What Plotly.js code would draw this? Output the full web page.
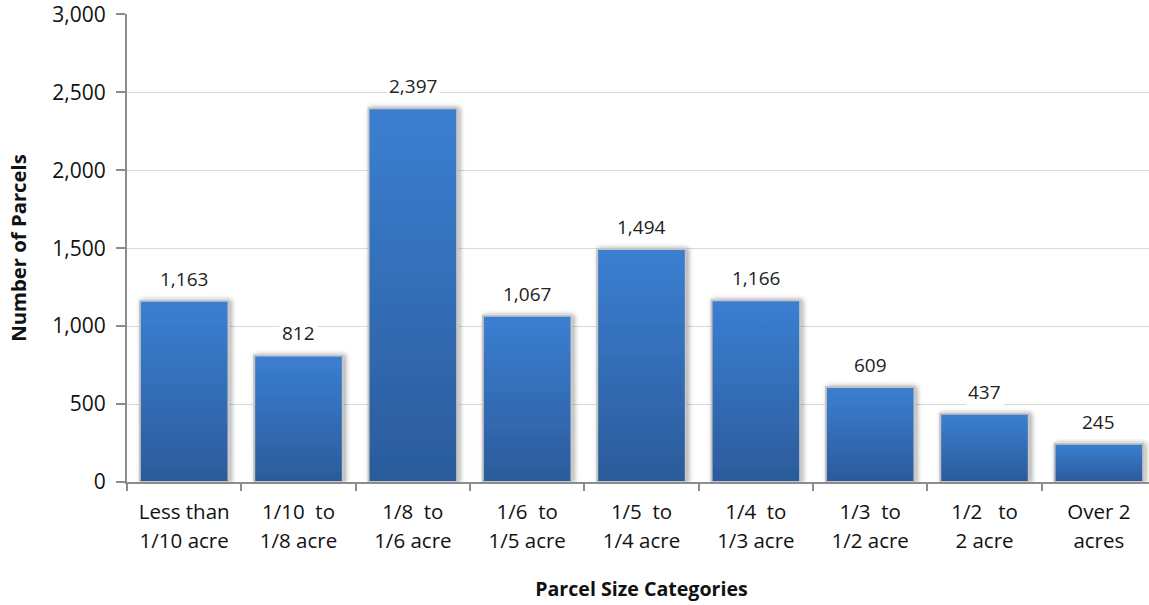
<!DOCTYPE html>
<html><head><meta charset="utf-8">
<script src="https://cdn.plot.ly/plotly-3.0.1.min.js"></script>
<style>html,body{margin:0;background:#fff;overflow:hidden}#chart{width:1156px;height:605px}</style>
</head><body><div id="chart"></div>
<script>
const categories = ["Less than<br>1/10 acre","1/10  to<br>1/8 acre","1/8  to<br>1/6 acre","1/6  to<br>1/5 acre","1/5  to<br>1/4 acre","1/4  to<br>1/3 acre","1/3  to<br>1/2 acre","1/2   to<br>2 acre","Over 2<br>acres"];
const parcels = [1163, 812, 2397, 1067, 1494, 1166, 609, 437, 245];
const yTicks = [0, 500, 1000, 1500, 2000, 2500, 3000];
const yTickText = ["0","500","1,000","1,500","2,000","2,500","3,000"];

const FONT = "'Open Sans', sans-serif";
const trace = {
  type: "bar", x: categories, y: parcels,
  marker: {color: "#3470bd", line: {color: "#c4c4c4", width: 2}},
  hoverinfo: "none"
};
const annotations = parcels.map((v, i) => ({
  x: categories[i], y: v, xref: "x", yref: "y",
  text: v.toLocaleString("en-US"), showarrow: false,
  yshift: 22, bgcolor: "#fff", borderpad: 2,
  font: {family: FONT, size: 19, color: "#222"}
}));
const layout = {
  width: 1156, height: 605,
  margin: {l: 127, r: 0, t: 14, b: 123},
  paper_bgcolor: "#fff", plot_bgcolor: "#fff",
  bargap: 0.225, showlegend: false,
  font: {family: FONT, color: "#111"},
  xaxis: {
    type: "category", tickson: "boundaries", ticks: "outside", ticklen: 7, tickwidth: 2, tickcolor: "#8c8c8c",
    showline: true, linecolor: "#8c8c8c", linewidth: 2, showgrid: false,
    tickfont: {family: FONT, size: 20.5, color: "#111"}, ticklabelstandoff: 10,
    title: {text: "<b>Parcel Size Categories</b>", font: {family: FONT, size: 19.6, color: "#111"}, standoff: 32}
  },
  yaxis: {
    range: [0, 3002], tickvals: yTicks, ticktext: yTickText,
    ticks: "outside", ticklen: 9, tickwidth: 2, tickcolor: "#8c8c8c",
    showline: true, linecolor: "#8c8c8c", linewidth: 2,
    gridcolor: "#d9d9d9", gridwidth: 1, zeroline: false,
    tickfont: {family: FONT, size: 21, color: "#111"}, ticklabelstandoff: 6,
    ticklabeloverflow: "allow",
    title: {text: "<b>Number of Parcels</b>", font: {family: FONT, size: 20.3, color: "#111"}, standoff: 20}
  },
  annotations: annotations
};
Plotly.newPlot("chart", [trace], layout, {staticPlot: true}).then(gd => {
  const svg = gd.querySelector("svg.main-svg");
  const ns = "http://www.w3.org/2000/svg";
  let defs = svg.querySelector("defs");
  if (!defs) { defs = document.createElementNS(ns, "defs"); svg.insertBefore(defs, svg.firstChild); }
  const g = document.createElementNS(ns, "linearGradient");
  g.setAttribute("id", "barGrad"); g.setAttribute("x1", "0"); g.setAttribute("y1", "0"); g.setAttribute("x2", "0"); g.setAttribute("y2", "1");
  [["0", "#3b7fd2"], ["1", "#2b5b9b"]].forEach(([o, c]) => {
    const s = document.createElementNS(ns, "stop"); s.setAttribute("offset", o); s.setAttribute("stop-color", c); g.appendChild(s);
  });
  defs.appendChild(g);
  const f = document.createElementNS(ns, "filter");
  f.setAttribute("id", "barShadow"); f.setAttribute("x", "-10%"); f.setAttribute("y", "-10%"); f.setAttribute("width", "120%"); f.setAttribute("height", "120%");
  f.innerHTML = '<feDropShadow dx="2" dy="0" stdDeviation="2.5" flood-color="#000" flood-opacity="0.35"/>';
  defs.appendChild(f);
  gd.querySelectorAll(".bars .point path").forEach(p => {
    p.style.fill = "url(#barGrad)";
    p.style.filter = "url(#barShadow)";
  });
  gd.querySelectorAll(".xtick text tspan.line").forEach((t, i) => {
    if (t.getAttribute("dy") && t.getAttribute("dy") !== "0em") t.setAttribute("dy", "1.45em");
  });
});
</script></body></html>
